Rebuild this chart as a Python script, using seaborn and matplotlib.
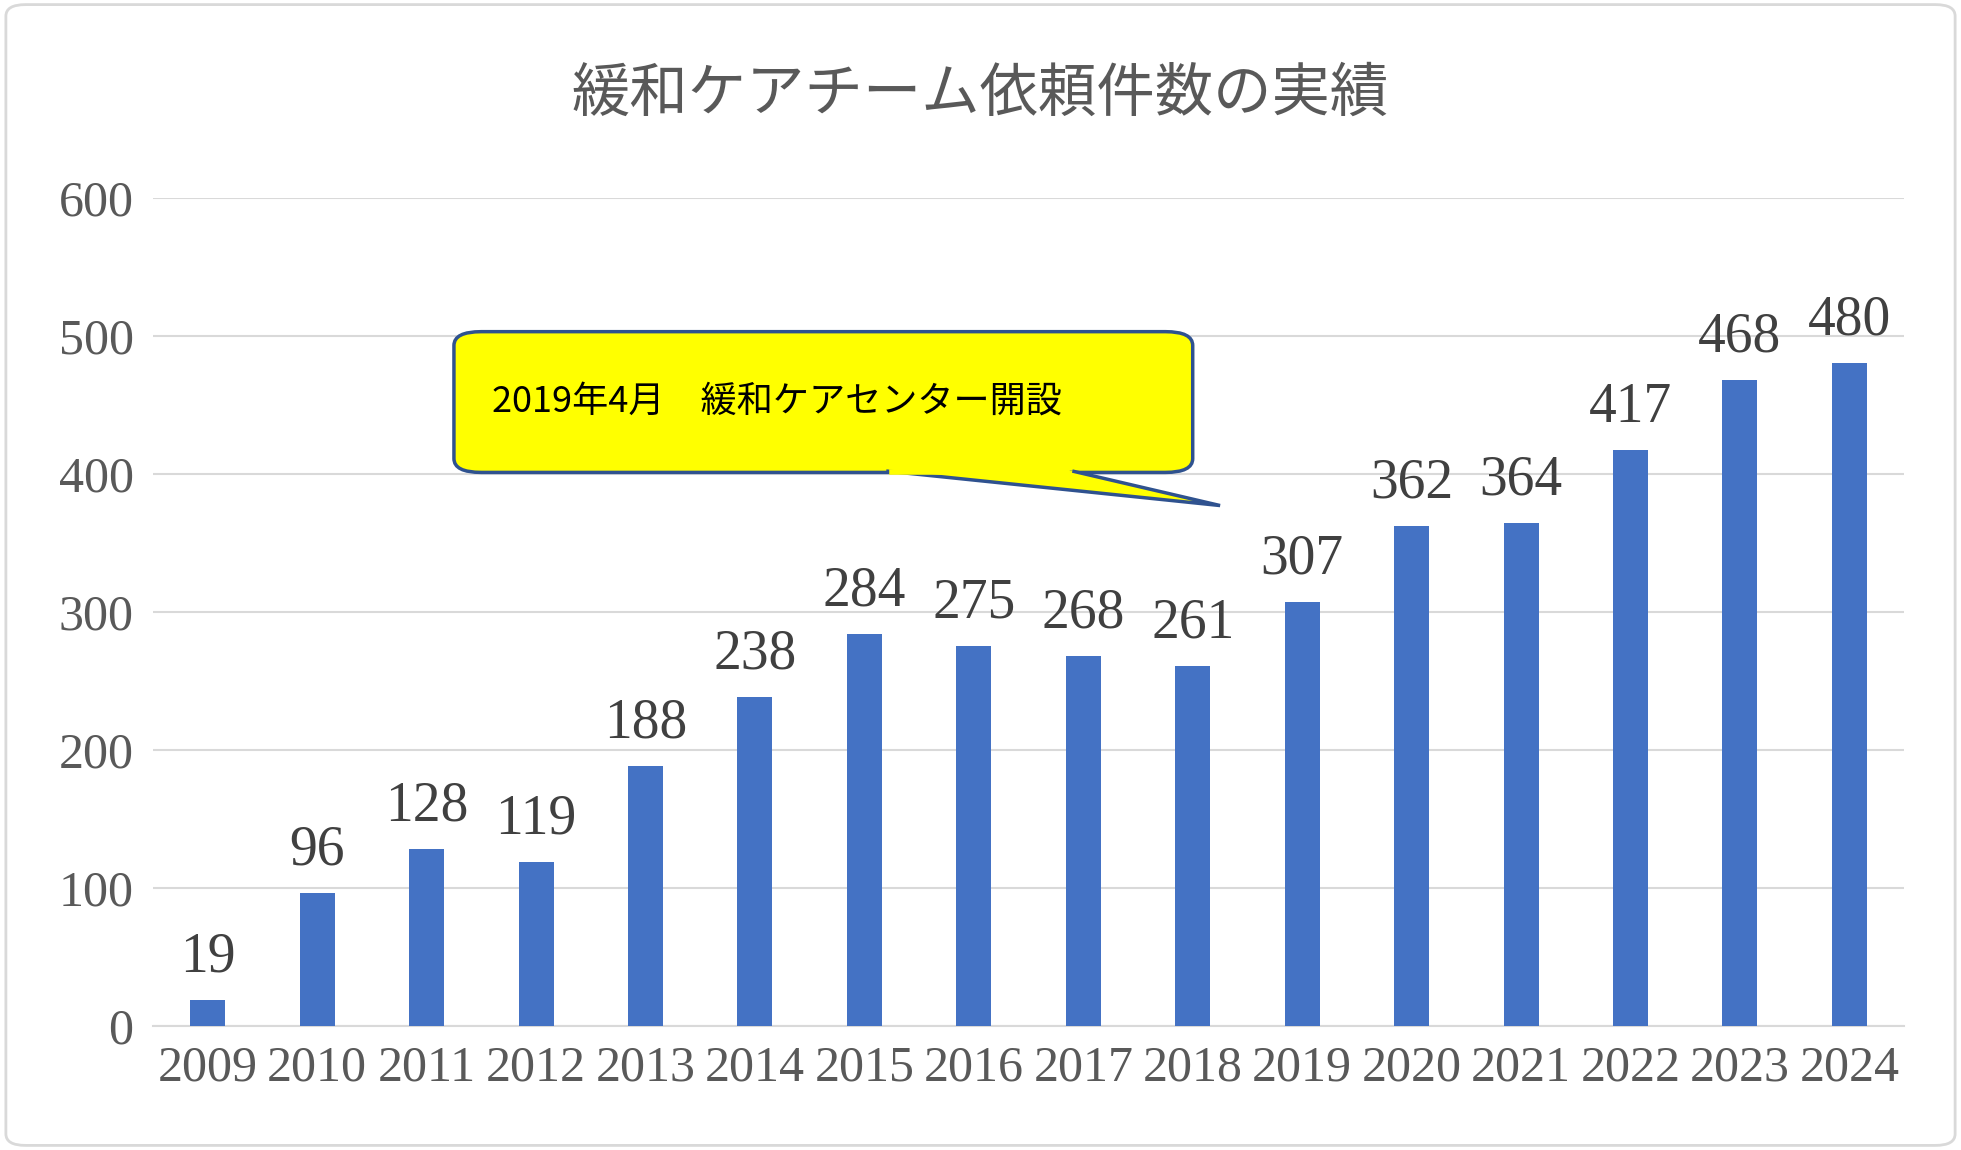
import numpy as np
import pandas as pd
import matplotlib
matplotlib.use('Agg')
import matplotlib.pyplot as plt
from matplotlib.patches import FancyBboxPatch, Polygon
import seaborn as sns

years = ['2009', '2010', '2011', '2012', '2013', '2014', '2015', '2016',
         '2017', '2018', '2019', '2020', '2021', '2022', '2023', '2024']
counts = [19, 96, 128, 119, 188, 238, 284, 275, 268, 261, 307, 362, 364, 417, 468, 480]
title = '緩和ケアチーム依頼件数の実績'
note = '2019年4月　緩和ケアセンター開設'

df = pd.DataFrame({'year': years, 'count': counts})

serif = 'Liberation Serif'
cjk = 'Noto Sans CJK JP'

fig = plt.figure(figsize=(19.61, 11.5), dpi=100)
ax = fig.add_axes([0.078, 0.108, 0.893, 0.72])

sns.barplot(data=df, x='year', y='count', color='#4472C4', saturation=1,
            width=0.32, ax=ax, zorder=3)

ax.set_ylim(0, 600)
ax.set_xlim(-0.5, 15.5)
ax.set_yticks(range(0, 601, 100))
ax.grid(axis='y', color='#d9d9d9', linewidth=1.5, zorder=0)
for s in ['top', 'right', 'left']:
    ax.spines[s].set_visible(False)
ax.spines['bottom'].set_color('#d9d9d9')
ax.spines['bottom'].set_linewidth(1.5)
ax.tick_params(length=0, labelsize=36, labelcolor='#595959', pad=14)
for lab in ax.get_xticklabels() + ax.get_yticklabels():
    lab.set_fontfamily(serif)
ax.set_xlabel('')
ax.set_ylabel('')

for i, v in enumerate(counts):
    ax.text(i, v + 12, str(v), ha='center', va='bottom', fontsize=40,
            fontfamily=serif, color='#404040')

fig.text(0.5, 0.918, title, ha='center', va='center', fontsize=42,
         fontfamily=cjk, color='#595959')

# callout
box = FancyBboxPatch((2.25, 401), 6.75, 102,
                     boxstyle='round,pad=0,rounding_size=0.25',
                     mutation_aspect=40, facecolor='#FFFF00',
                     edgecolor='#2F528F', linewidth=2.5, zorder=5, clip_on=False)
ax.add_patch(box)
ptr = Polygon([[6.2, 402], [9.25, 377], [7.9, 402]], closed=False,
              facecolor='#FFFF00', edgecolor='#2F528F', linewidth=2.5,
              zorder=6, clip_on=False)
ax.add_patch(ptr)
ax.plot([6.25, 7.85], [401.5, 401.5], color='#FFFF00', linewidth=4, zorder=7)
ax.text(2.6, 452, note, ha='left', va='center', fontsize=26,
        fontfamily=cjk, color='black', zorder=8)

border = FancyBboxPatch((0.003, 0.004), 0.994, 0.992,
                        boxstyle='round,pad=0,rounding_size=0.01',
                        transform=fig.transFigure, facecolor='none',
                        edgecolor='#d9d9d9', linewidth=2)
fig.patches.append(border)

fig.savefig('out.png', dpi=100)
